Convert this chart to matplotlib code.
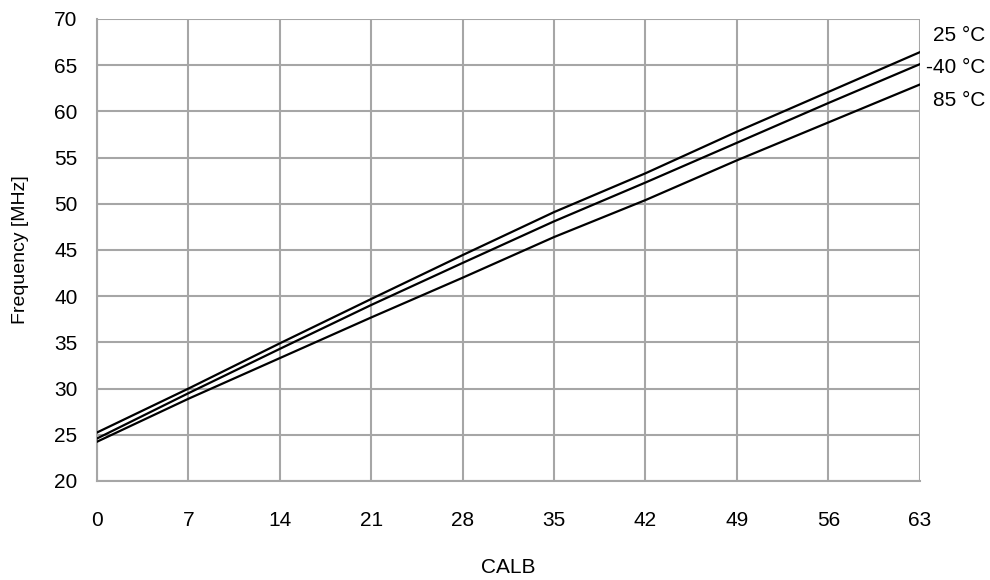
import matplotlib
matplotlib.use('Agg')
import matplotlib.pyplot as plt

# CALB code vs oscillator frequency, three temperatures
calb = [0, 7, 14, 21, 28, 35, 42, 49, 56, 63]
f_25 = [25.25, 30.0, 34.9, 39.7, 44.45, 49.1, 53.3, 57.8, 62.1, 66.4]
f_m40 = [24.6, 29.5, 34.3, 39.05, 43.6, 48.1, 52.3, 56.6, 60.9, 65.1]
f_85 = [24.25, 28.9, 33.3, 37.7, 42.0, 46.4, 50.4, 54.7, 58.8, 62.9]
labels = ['25 \u00b0C', '-40 \u00b0C', '85 \u00b0C']
label_y = [68.2, 64.8, 61.2]

plt.rcParams['font.family'] = ['Liberation Sans', 'DejaVu Sans']

fig = plt.figure(figsize=(9.9, 5.8), dpi=100)
ax = fig.add_axes([0.098, 0.1707, 0.831, 0.7966])

for ys in (f_25, f_m40, f_85):
    ax.plot(calb, ys, color='black', lw=1.6, zorder=3)

grid_c = '#a6a6a6'
ax.set_xlim(0, 63)
ax.set_ylim(20, 70)
ax.set_xticks(calb)
ax.set_yticks(range(20, 71, 5))
ax.grid(True, color=grid_c, lw=1.5)
ax.set_axisbelow(True)
for s in ('top', 'right'):
    ax.spines[s].set_visible(False)
for s in ('left', 'bottom'):
    ax.spines[s].set_color(grid_c)
    ax.spines[s].set_linewidth(1.5)
ax.tick_params(axis='both', length=0, labelsize=15)
ax.tick_params(axis='x', pad=21.5)
ax.tick_params(axis='y', pad=14)

ax.set_xlabel('CALB', fontsize=15, labelpad=20)
ax.set_ylabel('Frequency [MHz]', fontsize=14, labelpad=18)

for txt, yv in zip(labels, label_y):
    ax.text(1.0795, yv, txt, transform=ax.get_yaxis_transform(),
            ha='right', va='center', fontsize=15, clip_on=False)

fig.savefig('out.png', dpi=100)
